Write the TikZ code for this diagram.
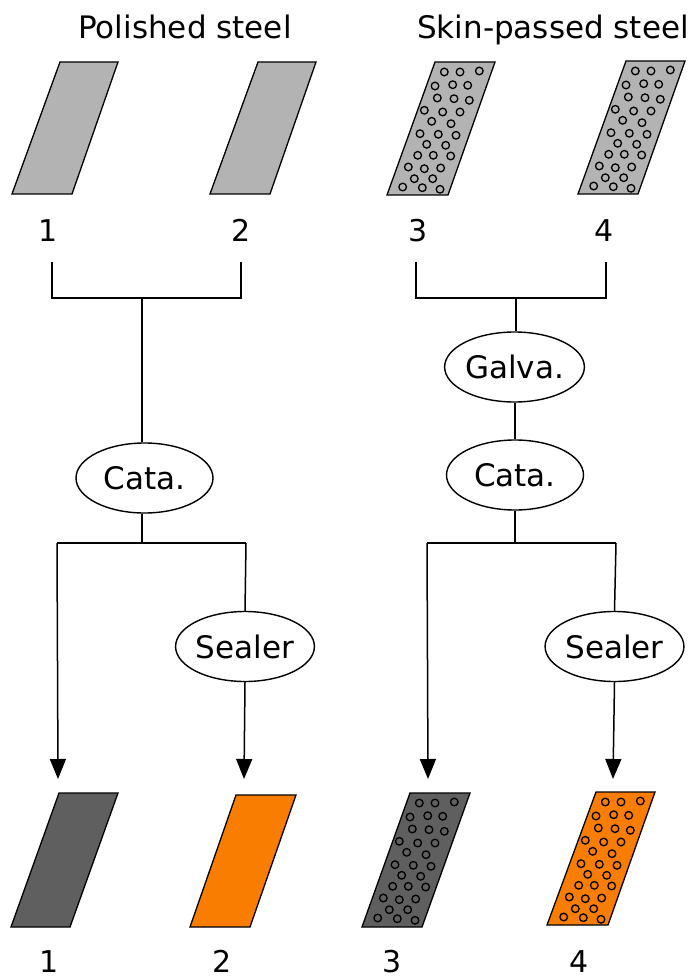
\documentclass[tikz,border=0pt]{standalone}
\usepackage{fontspec}
\setmainfont{DejaVu Sans}
\usetikzlibrary{shapes.geometric,arrows.meta}
\definecolor{steelgray}{RGB}{179,179,179}
\definecolor{darkgray}{RGB}{95,95,95}
\definecolor{orng}{RGB}{248,125,0}
\newcommand\myholes{%
  \foreach \p in {(9.3,10),(25,10),(44.3,9),
    (0,24),(17.7,22.7),(32.7,23.3),
    (2.3,36),(19,36.7),(34.3,38.3),
    (-10.7,48.3),(7.7,50),(25,50),
    (-3.3,59.3),(16,61.7),
    (-15,71.7),(3.3,72.3),(21,73.3),
    (-8.3,82.3),(10.7,83.3),
    (-17.3,93.3),(-1.7,93.3),(15.7,94),
    (-26.7,105),(-10.7,106.7),(5.7,106),
    (-20.7,116.7),(-2.3,116.7),
    (-32.3,125),(-12.7,125.7),(5,127.3)}
    {\draw[hole] \p circle[radius=3.8pt];}}
\begin{document}
\begin{tikzpicture}[x=1pt,y=-1pt,
  plate/.style={draw=black,line width=1.3pt,line join=miter},
  hole/.style={draw=black,line width=1.3pt},
  proc/.style={ellipse,draw,line width=1.4pt,minimum width=137pt,minimum height=70pt,inner sep=0pt,font=\fontsize{31}{37}\selectfont},
  lbl/.style={anchor=base,font=\fontsize{30}{36}\selectfont},
  conn/.style={line width=1.5pt},
  arr/.style={line width=1.5pt,-{Triangle[length=20pt,width=16pt]}}]
\useasboundingbox (0,0) rectangle (692,976);
% titles
\node[anchor=base,font=\fontsize{31}{37}\selectfont] (titleA) at (185,39) {Polished steel};
\node[anchor=base,font=\fontsize{31}{37}\selectfont] (titleB) at (553,39) {Skin-passed steel};
% top plates
\draw[plate,fill=steelgray] (60,62) -- (118,62) -- (72,194) -- (12,194) -- cycle;
\draw[plate,fill=steelgray] (258,62) -- (316,62) -- (270,194) -- (210,194) -- cycle;
\draw[plate,fill=steelgray] (435,62) -- (495,62) -- (448,195) -- (387,195) -- cycle;
\begin{scope}[shift={(435,62)}]\myholes\end{scope}
\draw[plate,fill=steelgray] (626,61) -- (685,61) -- (638,194) -- (578,194) -- cycle;
\begin{scope}[shift={(626,61)}]\myholes\end{scope}
% bottom plates
\draw[plate,fill=darkgray] (59,793) -- (118,793) -- (70,927) -- (11,927) -- cycle;
\draw[plate,fill=orng] (236,795) -- (296,795) -- (250,927) -- (190,927) -- cycle;
\draw[plate,fill=darkgray] (410,793) -- (470,793) -- (422,927) -- (362,927) -- cycle;
\begin{scope}[shift={(410,793)}]\myholes\end{scope}
\draw[plate,fill=orng] (596,792) -- (655,792) -- (608,925) -- (547,925) -- cycle;
\begin{scope}[shift={(596,792)}]\myholes\end{scope}
% top labels
\node[lbl] (t1) at (48,241) {1};
\node[lbl] (t2) at (241,241) {2};
\node[lbl] (t3) at (418,241) {3};
\node[lbl] (t4) at (604,241) {4};
% bottom labels
\node[lbl] (b1) at (49,972) {1};
\node[lbl] (b2) at (222,972) {2};
\node[lbl] (b3) at (392,972) {3};
\node[lbl] (b4) at (579,972) {4};
% process nodes
\node[proc] (cataL) at (144.5,478) {Cata.};
\node[proc] (sealL) at (245,646.5) {Sealer};
\node[proc] (galvR) at (514.5,367) {Galva.};
\node[proc] (cataR) at (515,475) {Cata.};
\node[proc] (sealR) at (614.5,646.5) {Sealer};
% coordinates left
\coordinate (lt1) at (52,262);
\coordinate (lt2) at (241,262);
\coordinate (lc1) at (52,298);
\coordinate (lc2) at (241,298);
\coordinate (lj) at (142,298);
\coordinate (ls) at (142,543);
\coordinate (lsa) at (57,543);
\coordinate (lsb) at (246,543);
\coordinate (la1) at (58,779);
\coordinate (la2) at (244,779);
% coordinates right
\coordinate (rt1) at (416,262);
\coordinate (rt2) at (606,262);
\coordinate (rc1) at (416,298);
\coordinate (rc2) at (606,298);
\coordinate (rj) at (516,298);
\coordinate (rm) at (515,400);
\coordinate (rs) at (515,543);
\coordinate (rsa) at (427,543);
\coordinate (rsb) at (616,543);
\coordinate (ra1) at (428,779);
\coordinate (ra2) at (613,779);
% left connectors
\draw[conn] (lt1) -- (lc1) -- (lc2) -- (lt2);
\draw[conn] (lj) -- (lj |- cataL.north);
\draw[conn] (ls |- cataL.south) -- (ls);
\draw[conn] (lsa) -- (lsb);
\draw[arr] (lsa) -- (la1);
\draw[conn] (lsb) -- (sealL.north);
\draw[arr] (sealL.south) -- (la2);
% right connectors
\draw[conn] (rt1) -- (rc1) -- (rc2) -- (rt2);
\draw[conn] (rj) -- (rj |- galvR.north);
\draw[conn] (rm |- galvR.south) -- (rm |- cataR.north);
\draw[conn] (cataR.south) -- (rs);
\draw[conn] (rsa) -- (rsb);
\draw[arr] (rsa) -- (ra1);
\draw[conn] (rsb) -- (sealR.north);
\draw[arr] (sealR.south) -- (ra2);
\end{tikzpicture}
\end{document}
